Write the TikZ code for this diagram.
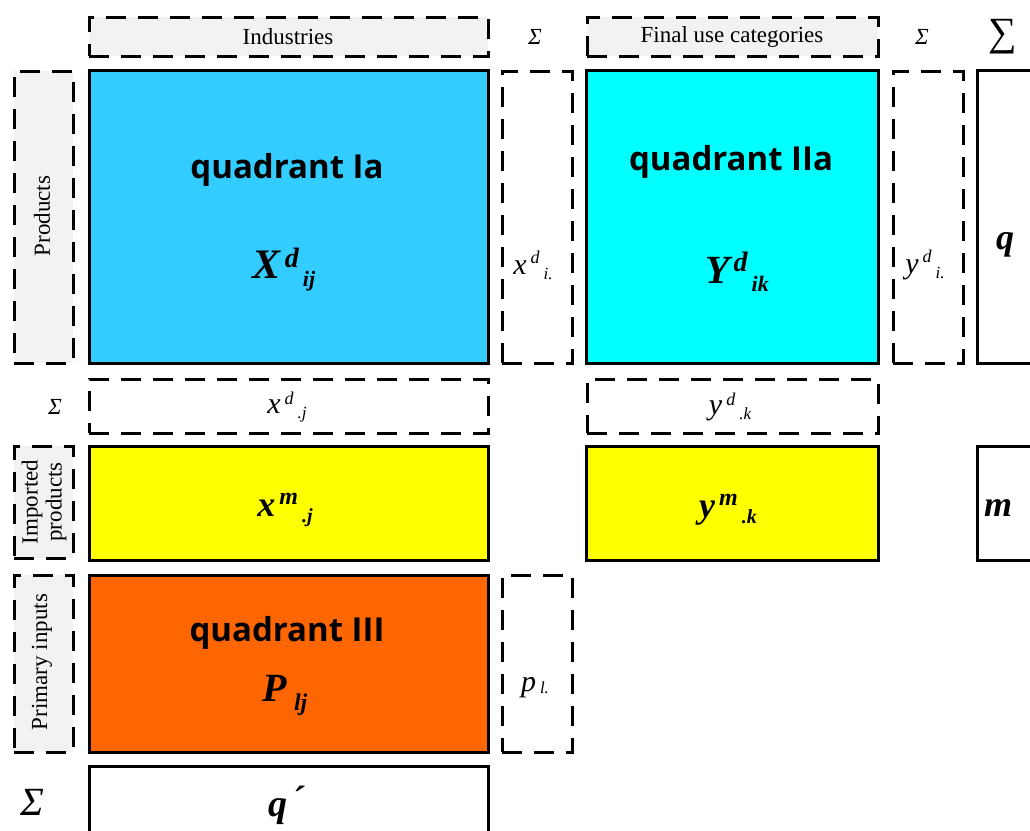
\documentclass[tikz,border=0pt]{standalone}
\usepackage{fontspec}
\setmainfont{Liberation Serif}
\newfontfamily\qfont{Open Sans}
\usetikzlibrary{calc}
\definecolor{qblue}{HTML}{33CCFF}
\definecolor{qcyan}{HTML}{00FFFF}
\definecolor{qyellow}{HTML}{FFFF00}
\definecolor{qorange}{HTML}{FF6600}
\definecolor{hdrgray}{HTML}{F2F2F2}
\newcommand\fs[1]{\fontsize{#1}{#1}\selectfont}
% base size, base, sup size, raise, sup, sub size, lower, sub
\newcommand\ssv[8]{{\fs{#1}#2}\kern4pt\raisebox{#4pt}{\fs{#3}#5}\kern4pt\raisebox{-#7pt}{\fs{#6}#8}}
\begin{document}
\begin{tikzpicture}[x=1pt,y=-1pt,
  solidbox/.style={draw=black,line width=3pt,inner sep=0pt,anchor=north west},
  dashbox/.style={draw=black,line width=2.5pt,dash pattern=on 20pt off 12pt,inner sep=0pt,anchor=north west,fill=white},
  hdrbox/.style={dashbox,fill=hdrgray},
  hdrtext/.style={font=\fs{23}},
  qtitle/.style={font=\qfont\bfseries\fs{33}},
  lbl/.style={inner sep=0pt}]
\useasboundingbox (0,0) rectangle (1030,830);
\clip (0,0) rectangle (1030,830);
% headers
\node[hdrbox,minimum width=399pt,minimum height=39pt] (hInd) at (88,16) {};
\node[hdrtext] (tInd) at (288,37) {Industries};
\node[hdrbox,minimum width=291pt,minimum height=39pt] (hFin) at (586,16) {};
\node[hdrtext] (tFin) at (732,37) {Final use categories};
\node[lbl] (sig1) at (535,37) {\fs{23}\itshape Σ};
\node[lbl] (sig2) at (922,37) {\fs{23}\itshape Σ};
\node[lbl] (sig3) at (1003,37) {\fs{40}∑};
% row 1
\node[hdrbox,minimum width=59pt,minimum height=292pt] (sProd) at (13,70) {};
\node[hdrtext,rotate=90] (tProd) at (42,216) {Products};
\node[solidbox,fill=qblue,minimum width=399pt,minimum height=293pt] (qIa) at (88,69) {};
\node[qtitle] (tIa) at (287,170) {quadrant Ia};
\node[lbl] (XdIj) at (284,270) {\bfseries\itshape\ssv{42}{X}{28}{11}{d}{22}{8}{ij}};
\node[dashbox,minimum width=70pt,minimum height=292pt] (xdi) at (501,70) {};
\node[lbl] (txdi) at (533,265) {\itshape\ssv{30}{x}{18}{11}{d}{17}{5}{i.}};
\node[solidbox,fill=qcyan,minimum width=292pt,minimum height=293pt] (qIIa) at (585,69) {};
\node[qtitle] (tIIa) at (731,162) {quadrant IIa};
\node[lbl] (YdIk) at (737,272) {\bfseries\itshape\ssv{40}{Y}{28}{12}{d}{22}{8}{ik}};
\node[dashbox,minimum width=70pt,minimum height=292pt] (ydi) at (892,70) {};
\node[lbl] (tydi) at (925,265) {\itshape\ssv{30}{y}{18}{11}{d}{17}{5}{i.}};
\node[solidbox,fill=white,minimum width=80pt,minimum height=293pt] (qbox) at (976,69) {};
\node[lbl] (tq) at (1005,245) {\fs{36}\bfseries\itshape q};
% sum row
\node[lbl] (sig4) at (55,407) {\fs{23}\itshape Σ};
\node[dashbox,minimum width=399pt,minimum height=54pt] (xdj) at (88,378) {};
\node[lbl] (txdj) at (287,407) {\itshape\ssv{30}{x}{18}{9}{d}{17}{5}{.j}};
\node[dashbox,minimum width=291pt,minimum height=54pt] (ydk) at (586,378) {};
\node[lbl] (tydk) at (730,407) {\itshape\ssv{30}{y}{18}{9}{d}{17}{5}{.k}};
% imports row
\node[hdrbox,minimum width=59pt,minimum height=112pt] (sImp) at (13,445) {};
\node[hdrtext,rotate=90,align=center,font=\fs{23}] (tImp) at (44,502) {Imported\\[1pt]products};
\node[solidbox,fill=qyellow,minimum width=399pt,minimum height=114pt] (xmj) at (88,445) {};
\node[lbl] (txmj) at (285,510) {\bfseries\itshape\ssv{36}{x}{24}{12}{m}{20}{6}{.j}};
\node[solidbox,fill=qyellow,minimum width=292pt,minimum height=114pt] (ymk) at (585,445) {};
\node[lbl] (tymk) at (728,510) {\bfseries\itshape\ssv{36}{y}{24}{12}{m}{20}{6}{.k}};
\node[solidbox,fill=white,minimum width=80pt,minimum height=114pt] (mbox) at (976,445) {};
\node[lbl] (tm) at (998,508) {\fs{36}\bfseries\itshape m};
% primary inputs row
\node[hdrbox,minimum width=59pt,minimum height=177pt] (sPrim) at (13,574) {};
\node[hdrtext,rotate=90] (tPrim) at (42,662) {Primary inputs};
\node[solidbox,fill=qorange,minimum width=399pt,minimum height=177pt] (qIII) at (88,574) {};
\node[qtitle] (tIII) at (287,633) {quadrant III};
\node[lbl] (Plj) at (285,695) {\bfseries\itshape{\fs{40}P}\kern7pt\raisebox{-9pt}{\fs{24}lj}};
\node[dashbox,minimum width=70pt,minimum height=177pt] (pl) at (501,574) {};
\node[lbl] (tpl) at (535,688) {\itshape{\fs{30}p}\kern4pt\raisebox{-2pt}{\fs{17}l.}};
% totals row
\node[lbl] (sig5) at (32,802) {\fs{40}\itshape Σ};
\node[solidbox,fill=white,minimum width=399pt,minimum height=90pt] (qpbox) at (88,765) {};
\node[lbl] (tqp) at (286,805) {\fs{38}\bfseries\itshape q\kern4pt\raisebox{4pt}{´}};
\end{tikzpicture}
\end{document}
